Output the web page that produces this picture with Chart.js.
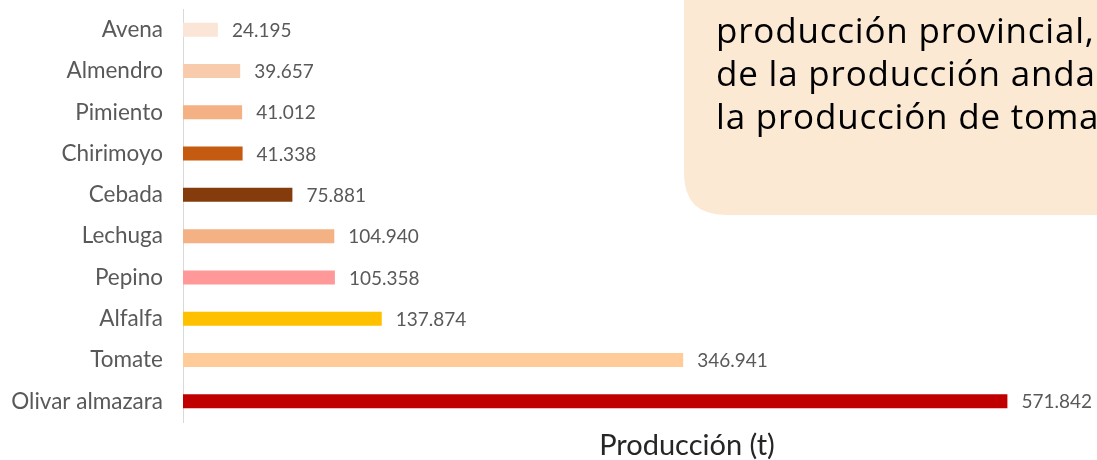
<!DOCTYPE html>
<html>
<head>
<meta charset="utf-8">
<script src="https://cdn.jsdelivr.net/npm/chart.js@4/dist/chart.umd.min.js"></script>
<style>
  html, body { margin: 0; padding: 0; background: #ffffff; }
  #wrap { width: 1097px; height: 460px; position: relative; }
</style>
</head>
<body>
<div id="wrap"><canvas id="c" width="1097" height="460"></canvas></div>
<script>
const categories = ["Avena", "Almendro", "Pimiento", "Chirimoyo", "Cebada", "Lechuga", "Pepino", "Alfalfa", "Tomate", "Olivar almazara"];
const produccion = [24195, 39657, 41012, 41338, 75881, 104940, 105358, 137874, 346941, 571842];
const barColors = ["#FBE5D6", "#F8CBAD", "#F4B183", "#C55A11", "#843C0C", "#F4B183", "#FF9999", "#FFC000", "#FFCC99", "#C00000"];
const axisTitle = "Producción (t)";
const boxLines = ["producción provincial,", "de la producción anda", "la producción de toma"];

function fmt(v) {
  return String(Math.round(v)).replace(/\B(?=(\d{3})+(?!\d))/g, ".");
}

const labelFont = "Lato, 'Open Sans', sans-serif";
const boxFont = "'Open Sans', Lato, sans-serif";

const valueLabels = {
  id: "valueLabels",
  afterDatasetsDraw(chart) {
    const ctx = chart.ctx;
    const meta = chart.getDatasetMeta(0);
    ctx.save();
    ctx.font = "19px " + labelFont;
    ctx.fillStyle = "#595959";
    ctx.textAlign = "left";
    ctx.textBaseline = "middle";
    meta.data.forEach((bar, i) => {
      ctx.fillText(fmt(chart.data.datasets[0].data[i]), bar.x + 14, bar.y + 1);
    });
    ctx.restore();
  }
};

const overlay = {
  id: "overlay",
  afterDraw(chart) {
    const ctx = chart.ctx;
    ctx.save();
    // axis title
    ctx.font = "29px " + labelFont;
    ctx.fillStyle = "#262626";
    ctx.textAlign = "center";
    ctx.textBaseline = "alphabetic";
    ctx.fillText(axisTitle, 687, 455);
    // text box
    const x0 = 684, y1 = 215, r = 42;
    ctx.fillStyle = "#FCE9D4";
    ctx.beginPath();
    ctx.moveTo(x0, -5);
    ctx.lineTo(1110, -5);
    ctx.lineTo(1110, y1);
    ctx.lineTo(x0 + r, y1);
    ctx.quadraticCurveTo(x0, y1, x0, y1 - r);
    ctx.closePath();
    ctx.fill();
    ctx.fillStyle = "#000000";
    ctx.font = "35px " + boxFont;
    if ("letterSpacing" in ctx) ctx.letterSpacing = "0.8px";
    ctx.textAlign = "left";
    ctx.textBaseline = "alphabetic";
    boxLines.forEach((t, i) => ctx.fillText(t, 716, 43 + i * 43));
    ctx.restore();
  }
};

new Chart(document.getElementById("c"), {
  type: "bar",
  data: {
    labels: categories,
    datasets: [{
      data: produccion,
      backgroundColor: barColors,
      borderWidth: 0,
      barPercentage: 0.34,
      categoryPercentage: 1
    }]
  },
  options: {
    indexAxis: "y",
    responsive: false,
    animation: false,
    events: [],
    layout: { padding: { left: 10, top: 9, bottom: 38, right: 49 } },
    plugins: { legend: { display: false }, tooltip: { enabled: false } },
    scales: {
      x: {
        display: false,
        min: 0,
        max: 600000
      },
      y: {
        afterFit(scale) {
          scale.width = 173;
          scale.paddingTop = 0;
          scale.paddingBottom = 0;
        },
        grid: { display: false, drawTicks: false },
        border: { display: true, color: "#D9D9D9", width: 1 },
        ticks: {
          color: "#595959",
          font: { family: labelFont, size: 22.5 },
          padding: 20
        }
      }
    }
  },
  plugins: [valueLabels, overlay]
});
</script>
</body>
</html>
